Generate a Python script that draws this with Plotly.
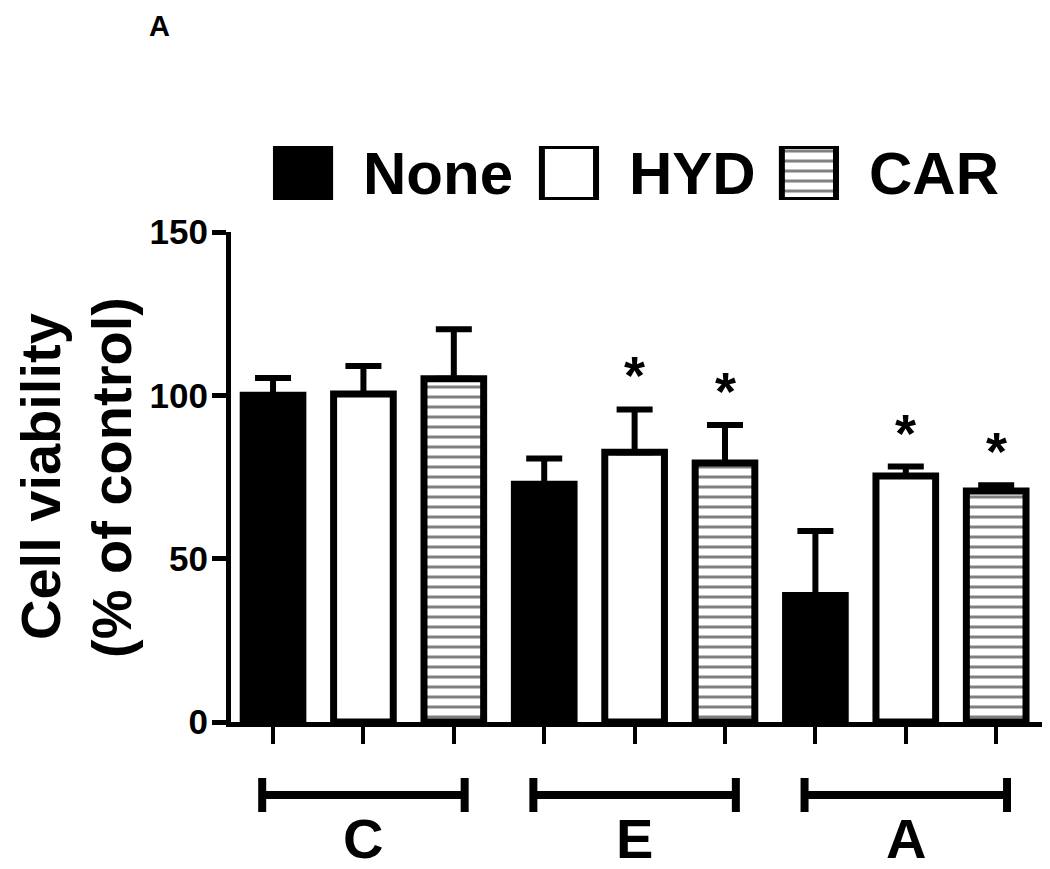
import plotly.graph_objects as go

# Groups and treatments
groups = ["C", "E", "A"]
treatments = ["None", "HYD", "CAR"]

# Cell viability (% of control), mean and error per group
none_mean = [100.0, 72.8, 38.7]
none_err = [5.3, 7.9, 19.8]
hyd_mean = [100.4, 82.6, 75.3]
hyd_err = [8.6, 13.1, 2.9]
car_mean = [105.1, 79.3, 70.7]
car_err = [15.1, 11.6, 1.8]

# Significance marks
none_sig = ["", "", ""]
hyd_sig = ["", "*", "*"]
car_sig = ["", "*", "*"]

y_ticks = [0, 50, 100, 150]
y_title = ["Cell viability", "(% of control)"]

FONT = "Liberation Sans"

means = [none_mean, hyd_mean, car_mean]
errs = [none_err, hyd_err, car_err]
sigs = [none_sig, hyd_sig, car_sig]

# fill style per treatment
styles = [
    dict(color="black"),
    dict(color="white"),
    dict(color="white", pattern=dict(shape="-", fgcolor="black", bgcolor="white", size=10, solidity=0.3)),
]

n_t = len(treatments)
fig = go.Figure()

for ti, name in enumerate(treatments):
    xs = [gi * n_t + ti for gi in range(len(groups))]
    fig.add_trace(go.Bar(
        x=xs,
        y=means[ti],
        width=0.66,
        name=name,
        marker=dict(**styles[ti], line=dict(color="black", width=7)),
        error_y=dict(type="data", array=errs[ti], arrayminus=[0] * len(groups),
                     symmetric=False, color="black", thickness=6, width=18),
        showlegend=False,
    ))
    # asterisks above error bars
    for gi in range(len(groups)):
        if sigs[ti][gi]:
            fig.add_annotation(
                x=xs[gi], y=means[ti][gi] + errs[ti][gi], xref="x", yref="y",
                text=sigs[ti][gi], showarrow=False,
                yanchor="bottom", yshift=2,
                font=dict(family=FONT, size=54, color="black", weight="bold"),
            )

# legend drawn as bars on a separate small axis
legend_x = [0.0885, 0.4152, 0.710]
for lx, st in zip(legend_x, styles):
    fig.add_trace(go.Bar(
        x=[lx], y=[1], width=0.0665,
        xaxis="x2", yaxis="y2", showlegend=False, hoverinfo="skip",
        marker=dict(**st, line=dict(color="black", width=6)),
    ))
for lx, name in zip(legend_x, treatments):
    fig.add_annotation(
        x=lx + 0.0715, y=0.5, xref="x2", yref="y2", text=name, showarrow=False,
        xanchor="left", yanchor="middle",
        font=dict(family=FONT, size=60, color="black", weight="bold"),
    )

# group brackets and labels under the axis
for gi, g in enumerate(groups):
    c = gi * n_t + (n_t - 1) / 2
    x0, x1 = c - 1.12, c + 1.12
    line = dict(color="black", width=8)
    fig.add_shape(type="line", xref="x", yref="paper", x0=x0, x1=x1, y0=-0.1174, y1=-0.1174, line=line)
    fig.add_shape(type="line", xref="x", yref="paper", x0=x0, x1=x0, y0=-0.090, y1=-0.1447, line=line)
    fig.add_shape(type="line", xref="x", yref="paper", x0=x1, x1=x1, y0=-0.090, y1=-0.1447, line=line)
    fig.add_annotation(
        x=c, y=-0.187, xref="x", yref="paper", text=g, showarrow=False,
        xanchor="center", yanchor="middle",
        font=dict(family=FONT, size=56, color="black", weight="bold"),
    )

# y axis title, one annotation per line
for tx, txt in zip([-0.2334, -0.1462], y_title):
    fig.add_annotation(
        x=tx, y=0.3939, xref="paper", yref="paper",
        text=txt, showarrow=False, textangle=-90,
        xanchor="center", yanchor="middle",
        font=dict(family=FONT, size=56, color="black", weight="bold"),
    )

# panel label
fig.add_annotation(
    x=-0.1032, y=1.1479, xref="paper", yref="paper", text="A", showarrow=False,
    xanchor="left", yanchor="top",
    font=dict(family=FONT, size=29, color="black", weight="bold"),
)

all_x = [gi * n_t + ti for gi in range(len(groups)) for ti in range(n_t)]

# page body adds an 8px offset, so the figure is 8px smaller each way
fig.update_layout(
    width=1042, height=861,
    margin=dict(l=223, r=5, t=92, b=147),
    paper_bgcolor="white", plot_bgcolor="white",
    barmode="overlay",
    font=dict(family=FONT, color="black"),
    xaxis=dict(
        range=[-0.465, 8.54], tickvals=all_x, ticktext=[""] * len(all_x),
        ticks="outside", ticklen=17, tickwidth=4, tickcolor="black",
        showline=True, linewidth=5, linecolor="black",
        showgrid=False, zeroline=False,
    ),
    yaxis=dict(
        domain=[0, 490 / 622], range=[0, 150], tickvals=y_ticks,
        ticks="outside", ticklen=14, tickwidth=5, tickcolor="black",
        ticklabelstandoff=-3,
        tickfont=dict(family=FONT, size=35, color="black", weight="bold"),
        showline=True, linewidth=5, linecolor="black",
        showgrid=False, zeroline=False,
    ),
    xaxis2=dict(domain=[0, 1], range=[0, 1], anchor="y2", visible=False),
    yaxis2=dict(domain=[0.8392, 0.9260], range=[0, 1], anchor="x2", visible=False),
)

fig.write_html("out.html")
